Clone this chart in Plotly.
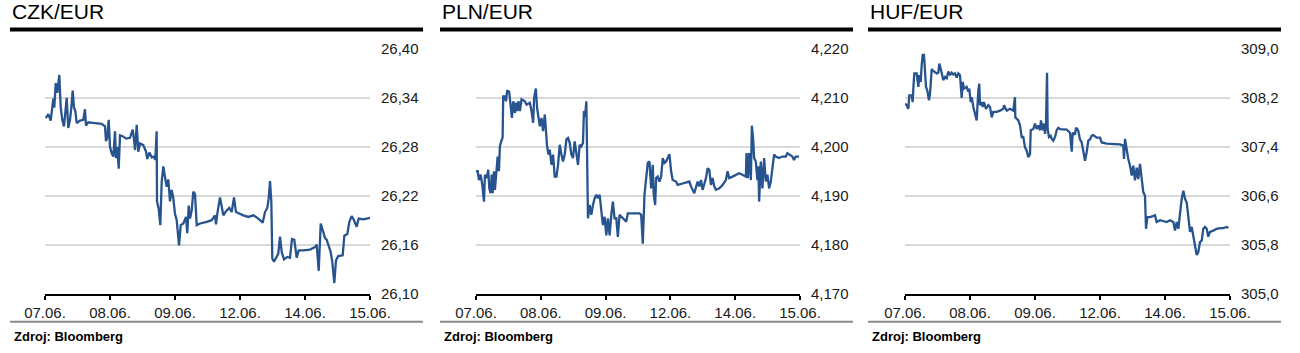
import plotly.graph_objects as go

# ---------------- data ----------------
dates = ["07.06.", "08.06.", "09.06.", "12.06.", "14.06.", "15.06."]
titles = ["CZK/EUR", "PLN/EUR", "HUF/EUR"]
source = "Zdroj: Bloomberg"

czk_ticks = [26.10, 26.16, 26.22, 26.28, 26.34, 26.40]
pln_ticks = [4.170, 4.180, 4.190, 4.200, 4.210, 4.220]
huf_ticks = [305.0, 305.8, 306.6, 307.4, 308.2, 309.0]

# time in trading-day index (0 = 07.06., 5 = 15.06.)
czk_t = [0.011, 0.051, 0.088, 0.112, 0.128, 0.143, 0.165, 0.189, 0.22, 0.242, 0.266, 0.292, 0.318, 0.334,
         0.358, 0.385, 0.405, 0.426, 0.446, 0.466, 0.488, 0.538, 0.589, 0.615, 0.631, 0.666, 0.769, 0.872,
         0.923, 0.938, 0.958, 0.98, 1.0, 1.026, 1.051, 1.077, 1.092, 1.112, 1.134, 1.154, 1.195, 1.246,
         1.308, 1.349, 1.369, 1.385, 1.411, 1.435, 1.462, 1.512, 1.554, 1.574, 1.605, 1.642, 1.677, 1.697,
         1.718, 1.723, 1.749, 1.774, 1.795, 1.82, 1.846, 1.872, 1.897, 1.923, 1.949, 1.974, 2.0, 2.026,
         2.062, 2.088, 2.128, 2.169, 2.189, 2.211, 2.231, 2.257, 2.282, 2.308, 2.334, 2.385, 2.488, 2.565,
         2.615, 2.631, 2.651, 2.692, 2.718, 2.743, 2.785, 2.835, 2.872, 2.908, 2.938, 2.989, 3.051, 3.128,
         3.205, 3.282, 3.349, 3.385, 3.42, 3.442, 3.462, 3.482, 3.497, 3.523, 3.554, 3.589, 3.615, 3.642,
         3.677, 3.728, 3.769, 3.8, 3.835, 3.872, 3.903, 3.974, 4.077, 4.154, 4.18, 4.211, 4.242, 4.272,
         4.308, 4.334, 4.365, 4.395, 4.42, 4.451, 4.477, 4.512, 4.58, 4.605, 4.651, 4.682, 4.718, 4.754,
         4.795, 4.826, 4.897, 4.949, 5.0]
czk_v = [26.315, 26.320, 26.312, 26.332, 26.339, 26.328, 26.358, 26.346, 26.368, 26.328, 26.313, 26.305,
         26.332, 26.340, 26.303, 26.313, 26.328, 26.349, 26.328, 26.324, 26.309, 26.312, 26.313, 26.326,
         26.306, 26.310, 26.309, 26.308, 26.305, 26.287, 26.291, 26.313, 26.280, 26.272, 26.268, 26.299,
         26.266, 26.280, 26.253, 26.294, 26.293, 26.290, 26.291, 26.301, 26.289, 26.276, 26.307, 26.274,
         26.284, 26.282, 26.274, 26.265, 26.273, 26.267, 26.268, 26.264, 26.299, 26.213, 26.204, 26.184,
         26.237, 26.256, 26.243, 26.231, 26.240, 26.213, 26.227, 26.217, 26.198, 26.190, 26.159, 26.184,
         26.186, 26.194, 26.174, 26.208, 26.192, 26.202, 26.225, 26.222, 26.184, 26.186, 26.188, 26.190,
         26.196, 26.185, 26.198, 26.218, 26.207, 26.196, 26.201, 26.205, 26.200, 26.218, 26.200, 26.198,
         26.196, 26.194, 26.196, 26.192, 26.187, 26.200, 26.205, 26.217, 26.238, 26.213, 26.143, 26.139,
         26.144, 26.149, 26.170, 26.151, 26.142, 26.145, 26.144, 26.167, 26.166, 26.144, 26.153, 26.153,
         26.154, 26.157, 26.160, 26.128, 26.186, 26.178, 26.168, 26.166, 26.157, 26.151, 26.139, 26.113,
         26.141, 26.146, 26.147, 26.171, 26.173, 26.188, 26.195, 26.190, 26.182, 26.192, 26.191, 26.192,
         26.193]

pln_t = [0.0, 0.026, 0.046, 0.072, 0.097, 0.123, 0.138, 0.165, 0.189, 0.205, 0.226, 0.242, 0.257, 0.277,
         0.292, 0.318, 0.334, 0.354, 0.369, 0.389, 0.411, 0.42, 0.446, 0.462, 0.482, 0.512, 0.534, 0.554,
         0.574, 0.6, 0.615, 0.635, 0.657, 0.677, 0.703, 0.754, 0.78, 0.831, 0.857, 0.882, 0.897, 0.923,
         0.943, 0.985, 1.011, 1.035, 1.062, 1.077, 1.097, 1.118, 1.138, 1.165, 1.189, 1.215, 1.242, 1.266,
         1.292, 1.318, 1.343, 1.369, 1.395, 1.42, 1.446, 1.472, 1.497, 1.523, 1.549, 1.574, 1.6, 1.626,
         1.651, 1.666, 1.682, 1.703, 1.712, 1.728, 1.754, 1.78, 1.805, 1.831, 1.857, 1.882, 1.908, 1.934,
         1.958, 1.985, 2.011, 2.035, 2.062, 2.088, 2.112, 2.138, 2.165, 2.189, 2.215, 2.318, 2.343, 2.446,
         2.523, 2.549, 2.574, 2.6, 2.626, 2.651, 2.677, 2.703, 2.728, 2.743, 2.765, 2.78, 2.805, 2.831,
         2.857, 2.882, 2.908, 2.934, 2.958, 2.985, 3.011, 3.035, 3.088, 3.112, 3.189, 3.292, 3.318, 3.343,
         3.369, 3.42, 3.446, 3.472, 3.497, 3.549, 3.574, 3.6, 3.626, 3.651, 3.677, 3.703, 3.754, 3.805,
         3.857, 3.882, 3.908, 3.958, 4.011, 4.062, 4.112, 4.165, 4.174, 4.195, 4.215, 4.242, 4.257, 4.277,
         4.292, 4.318, 4.343, 4.358, 4.369, 4.395, 4.42, 4.446, 4.472, 4.497, 4.523, 4.549, 4.574, 4.6,
         4.626, 4.677, 4.728, 4.78, 4.805, 4.831, 4.882, 4.908, 4.934, 4.985]
pln_v = [4.1950, 4.1950, 4.1932, 4.1943, 4.1922, 4.1888, 4.1943, 4.1936, 4.1953, 4.1915, 4.1905, 4.1943,
         4.1905, 4.1950, 4.1912, 4.1946, 4.1980, 4.1950, 4.2001, 4.2011, 4.2019, 4.2103, 4.2103, 4.2093,
         4.2115, 4.2112, 4.2083, 4.2059, 4.2093, 4.2069, 4.2090, 4.2073, 4.2093, 4.2073, 4.2097, 4.2093,
         4.2086, 4.2090, 4.2073, 4.2049, 4.2100, 4.2119, 4.2079, 4.2042, 4.2059, 4.2032, 4.2066, 4.2032,
         4.2001, 4.1984, 4.1994, 4.1963, 4.1984, 4.1939, 4.1939, 4.1963, 4.2004, 4.1984, 4.1970, 4.1984,
         4.2015, 4.2018, 4.2008, 4.1984, 4.1977, 4.2011, 4.1991, 4.1963, 4.2004, 4.2001, 4.2008, 4.2073,
         4.2062, 4.2093, 4.2008, 4.1854, 4.1881, 4.1861, 4.1881, 4.1895, 4.1902, 4.1895, 4.1902, 4.1864,
         4.1840, 4.1857, 4.1819, 4.1854, 4.1819, 4.1861, 4.1888, 4.1854, 4.1854, 4.1816, 4.1861, 4.1847,
         4.1864, 4.1864, 4.1864, 4.1861, 4.1802, 4.1902, 4.1929, 4.1967, 4.1970, 4.1915, 4.1963, 4.1902,
         4.1881, 4.1936, 4.1939, 4.1929, 4.1939, 4.1977, 4.1967, 4.1970, 4.1977, 4.1985, 4.1950, 4.1932,
         4.1929, 4.1922, 4.1925, 4.1929, 4.1919, 4.1912, 4.1905, 4.1929, 4.1919, 4.1932, 4.1912, 4.1936,
         4.1956, 4.1953, 4.1922, 4.1936, 4.1919, 4.1912, 4.1915, 4.1922, 4.1932, 4.1950, 4.1936, 4.1939,
         4.1943, 4.1946, 4.1943, 4.1939, 4.1987, 4.1936, 4.1987, 4.1932, 4.2043, 4.2015, 4.1977, 4.1970,
         4.1932, 4.1960, 4.1888, 4.1970, 4.1915, 4.1977, 4.1929, 4.1943, 4.1915, 4.1929, 4.1956, 4.1984,
         4.1980, 4.1977, 4.1980, 4.1980, 4.1987, 4.1984, 4.1980, 4.1973, 4.1980, 4.1980]

huf_t = [0.0, 0.026, 0.051, 0.066, 0.103, 0.118, 0.128, 0.143, 0.18, 0.205, 0.22, 0.242, 0.257, 0.272,
         0.292, 0.308, 0.323, 0.343, 0.369, 0.385, 0.411, 0.435, 0.488, 0.512, 0.528, 0.549, 0.565, 0.589,
         0.615, 0.642, 0.666, 0.692, 0.718, 0.743, 0.769, 0.795, 0.82, 0.846, 0.872, 0.888, 0.908, 0.949,
         0.974, 0.989, 1.011, 1.026, 1.051, 1.077, 1.103, 1.128, 1.143, 1.154, 1.18, 1.195, 1.215, 1.246,
         1.282, 1.308, 1.334, 1.358, 1.411, 1.462, 1.512, 1.523, 1.565, 1.615, 1.666, 1.692, 1.697, 1.718,
         1.743, 1.769, 1.795, 1.82, 1.846, 1.872, 1.897, 1.923, 1.934, 1.974, 2.0, 2.026, 2.051, 2.077,
         2.092, 2.118, 2.138, 2.154, 2.169, 2.185, 2.195, 2.215, 2.242, 2.257, 2.282, 2.308, 2.334, 2.358,
         2.385, 2.488, 2.538, 2.565, 2.58, 2.615, 2.631, 2.651, 2.666, 2.692, 2.718, 2.743, 2.769, 2.795,
         2.82, 2.846, 2.872, 2.897, 2.949, 3.0, 3.026, 3.103, 3.205, 3.308, 3.358, 3.369, 3.385, 3.411,
         3.435, 3.462, 3.488, 3.512, 3.538, 3.565, 3.589, 3.615, 3.642, 3.666, 3.692, 3.708, 3.728, 3.769,
         3.846, 3.872, 3.923, 4.026, 4.077, 4.128, 4.154, 4.18, 4.205, 4.231, 4.257, 4.282, 4.308, 4.334,
         4.358, 4.385, 4.411, 4.435, 4.462, 4.488, 4.512, 4.538, 4.565, 4.589, 4.615, 4.642, 4.666, 4.692,
         4.743, 4.795, 4.846, 4.897, 4.949, 4.974]
huf_v = [308.105, 308.08, 308.02, 308.24, 308.24, 308.13, 308.35, 308.60, 308.60, 308.38, 308.57, 308.46,
         308.74, 308.90, 308.90, 308.65, 308.38, 308.32, 308.16, 308.27, 308.67, 308.64, 308.60, 308.61,
         308.76, 308.68, 308.60, 308.49, 308.54, 308.52, 308.63, 308.57, 308.61, 308.58, 308.60, 308.53,
         308.60, 308.57, 308.20, 308.46, 308.35, 308.38, 308.30, 308.35, 308.13, 308.21, 308.05, 307.94,
         307.83, 308.32, 308.43, 308.08, 308.13, 308.05, 308.13, 308.02, 308.08, 308.05, 307.88, 307.97,
         307.97, 307.99, 308.02, 308.08, 307.99, 308.02, 307.99, 308.21, 307.88, 307.86, 307.83, 307.75,
         307.56, 307.56, 307.39, 307.34, 307.23, 307.28, 307.67, 307.69, 307.78, 307.69, 307.75, 307.67,
         307.83, 307.67, 307.78, 307.61, 307.78, 308.61, 307.69, 307.56, 307.58, 307.53, 307.50, 307.56,
         307.67, 307.71, 307.69, 307.68, 307.63, 307.32, 307.63, 307.60, 307.71, 307.69, 307.66, 307.52,
         307.47, 307.33, 307.17, 307.31, 307.50, 307.52, 307.58, 307.59, 307.55, 307.55, 307.47, 307.45,
         307.45, 307.44, 307.42, 307.20, 307.53, 307.31, 307.20, 307.09, 306.93, 307.09, 306.85, 307.06,
         306.87, 307.12, 306.87, 306.66, 306.60, 306.06, 306.25, 306.25, 306.28, 306.17, 306.20, 306.17,
         306.20, 306.17, 306.03, 306.17, 306.06, 306.33, 306.55, 306.68, 306.55, 306.49, 306.22, 306.01,
         306.09, 305.95, 305.79, 305.63, 305.68, 305.84, 305.87, 306.06, 306.09, 306.06, 305.93, 306.01,
         306.03, 306.06, 306.07, 306.07, 306.09, 306.07]

# ---------------- layout helpers ----------------
W, H = 1300, 353
FONT = "Liberation Sans, Arial, Helvetica, sans-serif"
LINE_COLOR = "#27548f"


def px(x):
    return x / W


def py(y):
    return 1 - y / H


panels = [
    dict(left=10, right=423, plot=(45, 370), t=czk_t, v=czk_v, ticks=czk_ticks, fmt=".2f"),
    dict(left=440, right=853, plot=(476, 800), t=pln_t, v=pln_v, ticks=pln_ticks, fmt=".3f"),
    dict(left=868, right=1281, plot=(905, 1230), t=huf_t, v=huf_v, ticks=huf_ticks, fmt=".1f"),
]

plot_top, plot_bottom = 48.5, 294.0

fig = go.Figure()
layout = dict(
    width=W, height=H, autosize=False,
    margin=dict(l=0, r=0, t=0, b=0, pad=0, autoexpand=False),
    paper_bgcolor="white", plot_bgcolor="white",
    showlegend=False,
    separators=", ",
    font=dict(family=FONT, color="#1a1a1a"),
)
shapes = []
annotations = []

for i, p in enumerate(panels):
    sfx = "" if i == 0 else str(i + 1)
    fig.add_trace(go.Scatter(
        x=p["t"], y=p["v"], mode="lines",
        line=dict(color=LINE_COLOR, width=2.3),
        xaxis="x" + sfx, yaxis="y" + sfx, hoverinfo="skip",
    ))
    span = p["ticks"][-1] - p["ticks"][0]
    pad = span * 0.0015
    layout["xaxis" + sfx] = dict(
        domain=[px(p["plot"][0]), px(p["plot"][1])],
        range=[0, len(dates) - 1],
        tickvals=list(range(len(dates))), ticktext=dates,
        ticks="outside", ticklen=4, tickwidth=2, tickcolor="black",
        showline=True, linecolor="black", linewidth=2,
        showgrid=False, zeroline=False, automargin=False,
        tickfont=dict(family=FONT, size=15, color="#1a1a1a"),
        anchor="y" + sfx, fixedrange=True,
    )
    layout["yaxis" + sfx] = dict(
        domain=[py(plot_bottom), py(plot_top)],
        range=[p["ticks"][0] - pad, p["ticks"][-1] + pad],
        tickvals=p["ticks"], tickformat=p["fmt"],
        side="right", ticks="", ticklabelstandoff=10,
        showgrid=True, gridcolor="#d9d9d9", gridwidth=2,
        showline=False, zeroline=False, automargin=False,
        tickfont=dict(family=FONT, size=15, color="#1a1a1a"),
        anchor="x" + sfx, fixedrange=True,
    )
    # heavy black rule under the title
    shapes.append(dict(type="line", xref="paper", yref="paper",
                       x0=px(p["left"]), x1=px(p["right"]), y0=py(29.5), y1=py(29.5),
                       line=dict(color="black", width=4)))
    # grey rule above the source
    shapes.append(dict(type="line", xref="paper", yref="paper",
                       x0=px(p["left"]), x1=px(p["right"]), y0=py(321.7), y1=py(321.7),
                       line=dict(color="#8a8a8a", width=2)))
    annotations.append(dict(text=titles[i], xref="paper", yref="paper",
                            x=px(p["left"]), y=py(11.7), xanchor="left", yanchor="middle",
                            showarrow=False, font=dict(family=FONT, size=21, color="black")))
    annotations.append(dict(text="<b>" + source + "</b>", xref="paper", yref="paper",
                            x=px(p["left"] + 2), y=py(336), xanchor="left", yanchor="middle",
                            showarrow=False, font=dict(family=FONT, size=13, color="black")))

layout["shapes"] = shapes
layout["annotations"] = annotations
fig.update_layout(**layout)

fig.write_html("out.html")
